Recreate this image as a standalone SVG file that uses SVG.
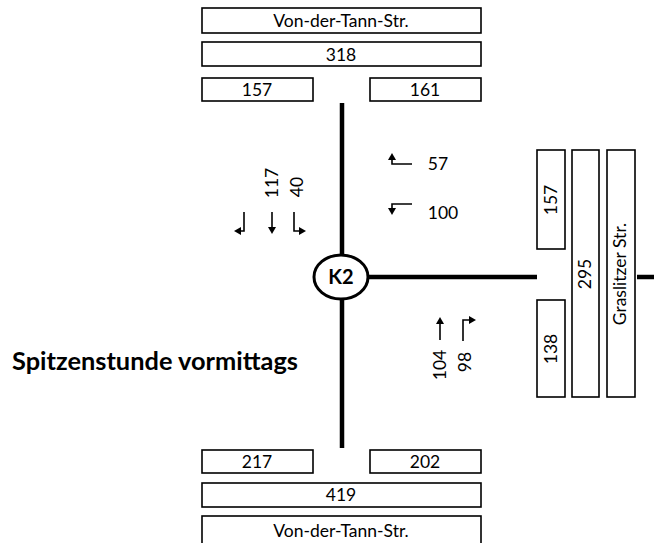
<svg xmlns="http://www.w3.org/2000/svg" width="654" height="543" viewBox="0 0 654 543">
  <style>
    .box { fill: #fff; stroke: #000; stroke-width: 1.6; }
    .t { font-family: Lato, "Open Sans", "Liberation Sans", sans-serif; font-size: 17.5px; fill: #000; text-anchor: middle; }
    .road { stroke: #000; stroke-width: 4.5; fill: none; }
    .arr { stroke: #000; stroke-width: 1.6; fill: none; }
    .head { fill: #000; }
  </style>
  <rect width="654" height="543" fill="#fff"/>

  <!-- roads -->
  <g id="connectors">
    <line class="road" x1="342" y1="103" x2="342" y2="448"/>
    <line class="road" x1="366" y1="277" x2="537" y2="277"/>
    <line class="road" x1="637" y1="277" x2="654" y2="277"/>
  </g>

  <!-- north approach -->
  <g id="north-name"><rect class="box" x="202" y="8" width="279" height="25"/><text class="t" x="341" y="27">Von-der-Tann-Str.</text></g>
  <g id="north-total"><rect class="box" x="202" y="42" width="279" height="24"/><text class="t" x="341" y="61">318</text></g>
  <g id="north-in"><rect class="box" x="202" y="78" width="111" height="23"/><text class="t" x="257" y="96">157</text></g>
  <g id="north-out"><rect class="box" x="370" y="78" width="111" height="23"/><text class="t" x="425" y="96">161</text></g>

  <!-- south approach -->
  <g id="south-out"><rect class="box" x="202" y="450" width="111" height="23"/><text class="t" x="257" y="468">217</text></g>
  <g id="south-in"><rect class="box" x="370" y="450" width="111" height="23"/><text class="t" x="425" y="468">202</text></g>
  <g id="south-total"><rect class="box" x="202" y="483" width="279" height="24"/><text class="t" x="341" y="501">419</text></g>
  <g id="south-name"><rect class="box" x="202" y="516" width="279" height="30"/><text class="t" x="341" y="537">Von-der-Tann-Str.</text></g>

  <!-- east approach -->
  <g id="east-in"><rect class="box" x="537" y="150" width="28" height="99"/><text class="t" transform="translate(557,200) rotate(-90)">157</text></g>
  <g id="east-out"><rect class="box" x="537" y="300" width="28" height="97"/><text class="t" transform="translate(557,349) rotate(-90)">138</text></g>
  <g id="east-total"><rect class="box" x="572" y="150" width="27" height="247"/><text class="t" transform="translate(591,274) rotate(-90)">295</text></g>
  <g id="east-name"><rect class="box" x="607" y="150" width="28" height="247"/><text class="t" transform="translate(626,274) rotate(-90)">Graslitzer Str.</text></g>

  <!-- node -->
  <g id="K2">
    <ellipse cx="341" cy="277" rx="27" ry="22" fill="#fff" stroke="#000" stroke-width="3"/>
    <text class="t" x="341" y="284" style="font-weight:bold;font-size:20px">K2</text>
  </g>

  <!-- north turning movements -->
  <g id="north-turns">
    <path class="arr" d="M244 212 V231 H240"/><polygon class="head" points="234,231 241,227 241,235"/>
    <path class="arr" d="M272 212 V228"/><polygon class="head" points="272,234 268,227 276,227"/>
    <path class="arr" d="M294 212 V231 H300"/><polygon class="head" points="306,231 299,227 299,235"/>
    <text class="t" transform="translate(278,183) rotate(-90)">117</text>
    <text class="t" transform="translate(303,187) rotate(-90)">40</text>
  </g>

  <!-- east turning movements -->
  <g id="east-turns">
    <path class="arr" d="M412 164 H392 V159"/><polygon class="head" points="392,153 388,160 396,160"/>
    <text class="t" x="438" y="170">57</text>
    <path class="arr" d="M412 204 H392 V209"/><polygon class="head" points="392,215 388,208 396,208"/>
    <text class="t" x="443" y="219">100</text>
  </g>

  <!-- south turning movements -->
  <g id="south-turns">
    <path class="arr" d="M440 340 V323"/><polygon class="head" points="440,317 436,324 444,324"/>
    <path class="arr" d="M463 341 V320 H469"/><polygon class="head" points="476,320 469,316 469,324"/>
    <text class="t" transform="translate(446,365) rotate(-90)">104</text>
    <text class="t" transform="translate(471,362) rotate(-90)">98</text>
  </g>

  <text x="12" y="370" textLength="286" lengthAdjust="spacingAndGlyphs" style="font-family:Lato,'Open Sans','Liberation Sans',sans-serif;font-weight:bold;font-size:25px;fill:#000">Spitzenstunde vormittags</text>
</svg>
